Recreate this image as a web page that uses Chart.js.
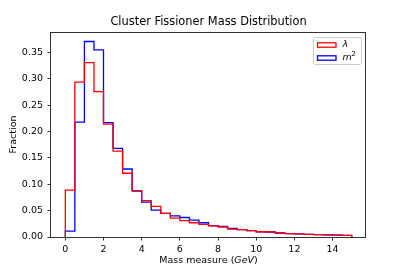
<!DOCTYPE html>
<html>
<head>
<meta charset="utf-8">
<script src="https://cdn.jsdelivr.net/npm/chart.js@4.4.1/dist/chart.umd.min.js"></script>
<style>
  html, body { margin: 0; padding: 0; background: #fff; }
  canvas { display: block; }
</style>
</head>
<body>
<canvas id="massChart" width="407" height="271"></canvas>
<script>
// Histogram bin edges (GeV), 0.5 wide
const binEdges = [0, 0.5, 1, 1.5, 2, 2.5, 3, 3.5, 4, 4.5, 5, 5.5, 6, 6.5, 7, 7.5,
    8, 8.5, 9, 9.5, 10, 10.5, 11, 11.5, 12, 12.5, 13, 13.5, 14, 14.5, 15];

// Fraction per bin
const lambdaFrac = [0.089, 0.294, 0.331, 0.276, 0.214, 0.163, 0.121, 0.088, 0.069, 0.058,
    0.045, 0.036, 0.031, 0.027, 0.024, 0.021, 0.019, 0.015, 0.014, 0.012,
    0.010, 0.0095, 0.0076, 0.0063, 0.006, 0.005, 0.0045, 0.004, 0.0035, 0.003];
const m2Frac = [0.011, 0.218, 0.371, 0.355, 0.217, 0.168, 0.129, 0.087, 0.066, 0.051,
    0.045, 0.040, 0.037, 0.032, 0.027, 0.0215, 0.020, 0.0165, 0.014, 0.012,
    0.010, 0.0095, 0.0076, 0.0063, 0.006, 0.005, 0.0045, 0.004, 0.0035, 0.003];

const xTicks = [0, 2, 4, 6, 8, 10, 12, 14];
const yTicks = [0, 0.05, 0.10, 0.15, 0.20, 0.25, 0.30, 0.35];

const FONT = 'DejaVu Sans';
const RED = '#ff0000';
const BLUE = '#0000ff';

// step outline like matplotlib histtype='step'
function stepPoints(values) {
    const last = binEdges[binEdges.length - 1];
    const pts = [{ x: binEdges[0], y: 0 }];
    values.forEach((v, i) => pts.push({ x: binEdges[i], y: v }));
    pts.push({ x: last, y: values[values.length - 1] });
    pts.push({ x: last, y: 0 });
    return pts;
}

const extras = {
    id: 'extras',
    afterDraw(chart) {
        const { ctx, chartArea: a } = chart;
        const midX = (a.left + a.right) / 2;
        ctx.save();

        // axes frame
        ctx.strokeStyle = '#333';
        ctx.lineWidth = 1;
        ctx.strokeRect(a.left - 0.5, a.top + 0.5, a.right - a.left, a.bottom - a.top);

        // title, centred over the axes
        ctx.fillStyle = '#000';
        ctx.textBaseline = 'middle';
        ctx.textAlign = 'center';
        ctx.font = `11.4px "${FONT}"`;
        ctx.fillText('Cluster Fissioner Mass Distribution', midX, 22.5);

        // x axis label with italic unit
        const parts = [
            { t: 'Mass measure (', f: `9.5px "${FONT}"` },
            { t: 'GeV', f: `italic 9.5px "${FONT}"` },
            { t: ')', f: `9.5px "${FONT}"` }
        ];
        let total = 0;
        parts.forEach(p => { ctx.font = p.f; p.w = ctx.measureText(p.t).width; total += p.w; });
        let x = midX - total / 2;
        ctx.textAlign = 'left';
        parts.forEach(p => { ctx.font = p.f; ctx.fillText(p.t, x, 261); x += p.w; });

        // legend
        const bw = 48, bh = 27;
        const bx = a.right - 5 - bw, by = a.top + 5;
        ctx.beginPath();
        ctx.roundRect(bx + 0.5, by + 0.5, bw, bh, 2);
        ctx.fillStyle = 'rgba(255,255,255,0.8)';
        ctx.fill();
        ctx.strokeStyle = '#cccccc';
        ctx.stroke();

        const rows = [
            { color: RED, y: by + 8 },
            { color: BLUE, y: by + 21 }
        ];
        ctx.lineWidth = 1.3;
        rows.forEach(r => {
            ctx.strokeStyle = r.color;
            ctx.strokeRect(bx + 4.5, r.y - 2.2, 18.5, 4.4);
        });
        ctx.fillStyle = '#000';
        ctx.font = `italic 9.5px "${FONT}"`;
        ctx.fillText('λ', bx + 29.5, rows[0].y);
        ctx.fillText('m', bx + 29.5, rows[1].y);
        const mw = ctx.measureText('m').width;
        ctx.font = `6.8px "${FONT}"`;
        ctx.fillText('2', bx + 29.5 + mw - 0.3, rows[1].y - 3.3);

        ctx.restore();
    }
};

new Chart(document.getElementById('massChart'), {
    type: 'line',
    data: {
        datasets: [
            {
                label: 'λ',
                data: stepPoints(lambdaFrac),
                borderColor: RED,
                borderWidth: 1.3,
                stepped: true,
                pointRadius: 0,
                fill: false
            },
            {
                label: 'm²',
                data: stepPoints(m2Frac),
                borderColor: BLUE,
                borderWidth: 1.3,
                stepped: true,
                pointRadius: 0,
                fill: false
            }
        ]
    },
    options: {
        responsive: false,
        animation: false,
        devicePixelRatio: 1,
        layout: { padding: { top: 32, right: 41, left: 0, bottom: 0 } },
        plugins: {
            legend: { display: false },
            tooltip: { enabled: false },
            title: { display: false }
        },
        scales: {
            x: {
                type: 'linear',
                min: -0.75,
                max: 15.75,
                afterBuildTicks: s => { s.ticks = xTicks.map(v => ({ value: v })); },
                afterFit: s => { s.height = 34; },
                ticks: {
                    color: '#000',
                    padding: 3,
                    maxRotation: 0,
                    font: { family: FONT, size: 9.5 },
                    callback: v => String(v)
                },
                grid: { drawOnChartArea: false, drawTicks: true, tickLength: 3.5, tickColor: '#333' },
                border: { display: false }
            },
            y: {
                min: 0,
                max: 0.389,
                afterBuildTicks: s => { s.ticks = yTicks.map(v => ({ value: v })); },
                afterFit: s => { s.width = 51; },
                ticks: {
                    color: '#000',
                    padding: 4.5,
                    font: { family: FONT, size: 9.5 },
                    callback: v => v.toFixed(2)
                },
                title: {
                    display: true,
                    text: 'Fraction',
                    color: '#000',
                    font: { family: FONT, size: 9.5 },
                    padding: { top: 8, bottom: 0 }
                },
                grid: { drawOnChartArea: false, drawTicks: true, tickLength: 3.5, tickColor: '#333' },
                border: { display: false }
            }
        }
    },
    plugins: [extras]
});
</script>
</body>
</html>
